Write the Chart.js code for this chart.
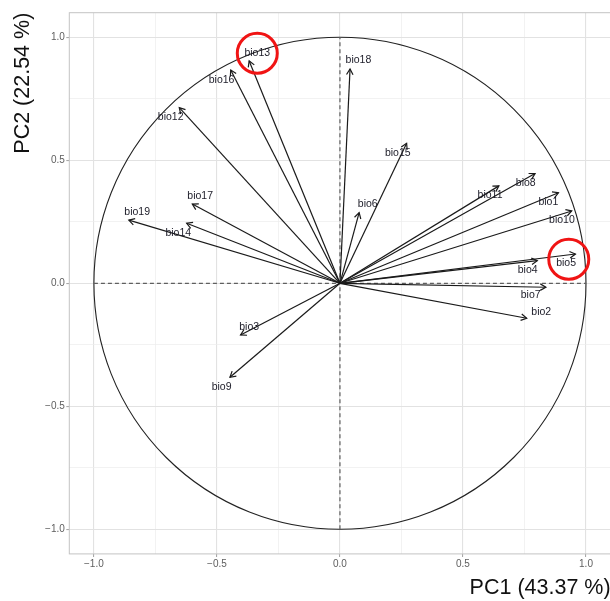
<!DOCTYPE html>
<html>
<head>
<meta charset="utf-8">
<script src="https://cdn.jsdelivr.net/npm/chart.js@4"></script>
<style>
  html, body { margin: 0; padding: 0; background: #fff; overflow: hidden; }
  #wrap { width: 610px; height: 601px; overflow: hidden; }
</style>
</head>
<body>
<div id="wrap"><canvas id="pca" width="612" height="601"></canvas></div>
<script>
// variable names and loadings (PC1, PC2)
const VARS = ['bio1','bio2','bio3','bio4','bio5','bio6','bio7','bio8','bio9','bio10',
              'bio11','bio12','bio13','bio14','bio15','bio16','bio17','bio18','bio19'];
const PC1 = [0.888, 0.759, -0.404, 0.802, 0.957, 0.078, 0.837, 0.793, -0.447, 0.942,
             0.646, -0.653, -0.369, -0.623, 0.271, -0.444, -0.600, 0.041, -0.858];
const PC2 = [0.368, -0.142, -0.210, 0.092, 0.119, 0.287, -0.016, 0.446, -0.382, 0.294,
             0.396, 0.714, 0.904, 0.244, 0.569, 0.867, 0.322, 0.871, 0.257];

// where each label sits (data units)
const LABEL_X = [0.847, 0.818, -0.369, 0.763, 0.919, 0.113, 0.775, 0.755, -0.481, 0.902,
                 0.610, -0.688, -0.336, -0.657, 0.235, -0.481, -0.568, 0.075, -0.824];
const LABEL_Y = [0.332, -0.118, -0.179, 0.054, 0.081, 0.322, -0.049, 0.409, -0.420, 0.257,
                 0.359, 0.675, 0.935, 0.206, 0.531, 0.827, 0.355, 0.907, 0.291];

// dashed reference lines through the origin
const H_LINE = [{x: -1, y: 0}, {x: 1, y: 0}];
const V_LINE = [{x: 0, y: -1}, {x: 0, y: 1}];

// red highlight rings (centres)
const MARK_X = [-0.336, 0.930];
const MARK_Y = [0.935, 0.098];

// ticks
const TICK_VALUES = [-1, -0.5, 0, 0.5, 1];
const TICK_LABELS = ['\u22121.0', '\u22120.5', '0.0', '0.5', '1.0'];
const MINOR_VALUES = [-0.75, -0.25, 0.25, 0.75];
const LIMITS = [-1.1, 1.1];

Chart.defaults.font.family = "'Liberation Sans', Arial, sans-serif";

const isMajor = v => TICK_VALUES.indexOf(v) >= 0;

const arrowSets = VARS.map((name, i) => ({
  type: 'line',
  label: name,
  data: [{x: 0, y: 0}, {x: PC1[i], y: PC2[i]}],
  borderColor: '#1a1a1a',
  borderWidth: 1.2,
  pointRadius: 0,
  fill: false,
  isArrow: true
}));

const dashSets = [H_LINE, V_LINE].map(d => ({
  type: 'line',
  data: d,
  borderColor: '#5f5f5f',
  borderWidth: 1.2,
  borderDash: [4, 3],
  pointRadius: 0,
  fill: false
}));

const overlay = {
  id: 'overlay',
  beforeDatasetsDraw(chart) {
    const {ctx, scales: {x, y}} = chart;
    // correlation circle
    const cx = x.getPixelForValue(0), cy = y.getPixelForValue(0);
    const rx = x.getPixelForValue(1) - cx, ry = cy - y.getPixelForValue(1);
    ctx.save();
    ctx.strokeStyle = '#222';
    ctx.lineWidth = 1.1;
    ctx.beginPath();
    ctx.ellipse(cx, cy, rx, ry, 0, 0, Math.PI * 2);
    ctx.stroke();
    ctx.restore();
  },
  afterDatasetsDraw(chart) {
    const {ctx, scales: {x, y}} = chart;
    ctx.save();
    // arrow heads
    ctx.strokeStyle = '#1a1a1a';
    ctx.lineWidth = 1.2;
    chart.data.datasets.forEach((ds, i) => {
      if (!ds.isArrow) return;
      const pts = chart.getDatasetMeta(i).data;
      const a = Math.atan2(pts[1].y - pts[0].y, pts[1].x - pts[0].x);
      const len = 6.5;
      ctx.beginPath();
      ctx.moveTo(pts[1].x - len * Math.cos(a - Math.PI / 6), pts[1].y - len * Math.sin(a - Math.PI / 6));
      ctx.lineTo(pts[1].x, pts[1].y);
      ctx.lineTo(pts[1].x - len * Math.cos(a + Math.PI / 6), pts[1].y - len * Math.sin(a + Math.PI / 6));
      ctx.stroke();
    });
    // labels
    ctx.fillStyle = '#1c1c28';
    ctx.font = "10.5px 'Liberation Sans', Arial, sans-serif";
    ctx.textAlign = 'center';
    ctx.textBaseline = 'middle';
    VARS.forEach((name, i) => {
      ctx.fillText(name, x.getPixelForValue(LABEL_X[i]), y.getPixelForValue(LABEL_Y[i]));
    });
    // red rings
    ctx.strokeStyle = '#f01414';
    ctx.lineWidth = 3;
    MARK_X.forEach((mx, i) => {
      ctx.beginPath();
      ctx.arc(x.getPixelForValue(mx), y.getPixelForValue(MARK_Y[i]), 20, 0, Math.PI * 2);
      ctx.stroke();
    });
    ctx.restore();
  },
  afterDraw(chart) {
    const {ctx, chartArea: a} = chart;
    ctx.save();
    ctx.strokeStyle = '#c4c4c4';
    ctx.lineWidth = 1;
    ctx.strokeRect(a.left, a.top, a.right - a.left, a.bottom - a.top);
    ctx.restore();
  }
};

function axis(title, fitFn, titlePad) {
  return {
    type: 'linear',
    min: LIMITS[0],
    max: LIMITS[1],
    afterBuildTicks: s => {
      s.ticks = TICK_VALUES.concat(MINOR_VALUES).sort((p, q) => p - q).map(v => ({value: v}));
    },
    afterFit: fitFn,
    border: {display: false},
    grid: {
      color: c => isMajor(c.tick.value) ? '#e2e2e2' : '#ededed',
      lineWidth: c => isMajor(c.tick.value) ? 1.1 : 0.7,
      tickColor: c => isMajor(c.tick.value) ? '#a8a8a8' : 'rgba(0,0,0,0)',
      tickLength: 3
    },
    ticks: {
      autoSkip: false,
      maxRotation: 0,
      padding: 1.5,
      color: '#5e5e5e',
      font: {size: 10},
      callback: v => {
        const k = TICK_VALUES.indexOf(v);
        return k >= 0 ? TICK_LABELS[k] : '';
      }
    },
    title: {
      display: true,
      text: title,
      align: 'end',
      color: '#111',
      font: {size: 21.5},
      padding: titlePad
    }
  };
}

new Chart(document.getElementById('pca'), {
  type: 'scatter',
  data: {datasets: arrowSets.concat(dashSets)},
  options: {
    responsive: false,
    animation: false,
    layout: {padding: {top: 12.7, left: 0, right: 1.4, bottom: 0}},
    plugins: {legend: {display: false}, tooltip: {enabled: false}},
    scales: {
      x: axis('PC1 (43.37 %)', s => { s.height = 47.1; }, {top: 0, bottom: 0}),
      y: axis('PC2 (22.54 %)', s => { s.width = 69.3; }, {top: 10, bottom: 0})
    }
  },
  plugins: [overlay]
});
</script>
</body>
</html>
